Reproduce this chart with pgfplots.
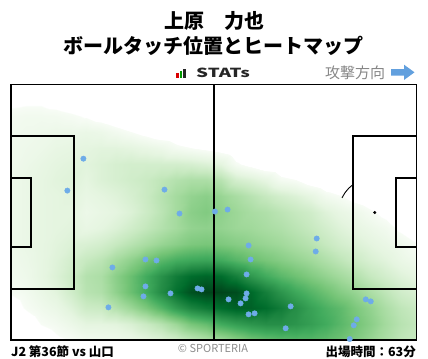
\documentclass[border=0pt]{standalone}
\usepackage{pgfplots}
\pgfplotsset{compat=1.18}
\usepackage{fontspec}
\setmainfont{Noto Sans CJK JP}
\definecolor{dotblue}{RGB}{110,172,232}
\definecolor{arrowblue}{RGB}{98,160,222}
\begin{document}
\begin{tikzpicture}
\useasboundingbox (0bp,0bp) rectangle (428bp,-359bp);
\begin{axis}[
  at={(11bp,-340bp)}, anchor=south west,
  scale only axis, width=405.5bp, height=255.5bp,
  xmin=0, xmax=405, ymin=0, ymax=256, y dir=reverse,
  xtick=\empty, ytick=\empty,
  axis on top, axis line style={line width=1.1bp, black},
  colormap={sgreens}{rgb255(0cm)=(255,255,255); rgb255(19cm)=(255,255,255); rgb255(20cm)=(247,252,245); rgb255(40cm)=(229,245,224); rgb255(60cm)=(199,233,192); rgb255(80cm)=(161,217,155); rgb255(100cm)=(116,196,118); rgb255(120cm)=(65,171,93); rgb255(140cm)=(35,139,69); rgb255(160cm)=(0,109,44); rgb255(180cm)=(0,68,27)},
  point meta min=0, point meta max=9,
]
\addplot [surf, shader=interp, mesh/rows=17, mesh/cols=28, point meta=explicit] coordinates {
(0,0)[-0.2] (15,0)[-0.2] (30,0)[-0.2] (45,0)[-0.5] (60,0)[-0.8] (75,0)[-1] (90,0)[-1] (105,0)[-1] (120,0)[-1] (135,0)[-1] (150,0)[-1] (165,0)[-1] (180,0)[-1] (195,0)[-1] (210,0)[-1] (225,0)[-1] (240,0)[-1] (255,0)[-1] (270,0)[-1] (285,0)[-1] (300,0)[-1] (315,0)[-1] (330,0)[-1] (345,0)[-1] (360,0)[-1] (375,0)[-1] (390,0)[-1] (405,0)[-1]

(0,16)[0.75] (15,16)[0.8] (30,16)[0.8] (45,16)[0.6] (60,16)[0.4] (75,16)[0.2] (90,16)[-0.2] (105,16)[-0.3] (120,16)[-0.5] (135,16)[-1] (150,16)[-1] (165,16)[-1] (180,16)[-1] (195,16)[-1] (210,16)[-1] (225,16)[-1] (240,16)[-1] (255,16)[-1] (270,16)[-1] (285,16)[-1] (300,16)[-1] (315,16)[-1] (330,16)[-1] (345,16)[-1] (360,16)[-1] (375,16)[-1] (390,16)[-1] (405,16)[-1]

(0,32)[1.2] (15,32)[1.3] (30,32)[1.3] (45,32)[1.25] (60,32)[1.1] (75,32)[0.9] (90,32)[0.6] (105,32)[0.3] (120,32)[0] (135,32)[-0.3] (150,32)[-0.5] (165,32)[-0.7] (180,32)[-1] (195,32)[-1] (210,32)[-1] (225,32)[-1] (240,32)[-1] (255,32)[-1] (270,32)[-1] (285,32)[-1] (300,32)[-1] (315,32)[-1] (330,32)[-1] (345,32)[-1] (360,32)[-1] (375,32)[-1] (390,32)[-1] (405,32)[-1]

(0,48)[1.3] (15,48)[1.4] (30,48)[1.5] (45,48)[1.6] (60,48)[1.6] (75,48)[1.7] (90,48)[1.6] (105,48)[1.3] (120,48)[1.0] (135,48)[0.7] (150,48)[0.4] (165,48)[0.3] (180,48)[0] (195,48)[-0.3] (210,48)[-0.5] (225,48)[-0.8] (240,48)[-1] (255,48)[-1] (270,48)[-1] (285,48)[-1] (300,48)[-1] (315,48)[-1] (330,48)[-1] (345,48)[-1] (360,48)[-1] (375,48)[-1] (390,48)[-1] (405,48)[-1]

(0,64)[1.4] (15,64)[1.5] (30,64)[1.6] (45,64)[1.8] (60,64)[1.9] (75,64)[2.0] (90,64)[2.1] (105,64)[2.1] (120,64)[2.0] (135,64)[1.8] (150,64)[1.6] (165,64)[1.2] (180,64)[1.0] (195,64)[0.8] (210,64)[0.6] (225,64)[0.3] (240,64)[-0.2] (255,64)[-0.5] (270,64)[-0.7] (285,64)[-1] (300,64)[-1] (315,64)[-1] (330,64)[-1] (345,64)[-1] (360,64)[-1] (375,64)[-1] (390,64)[-1] (405,64)[-1]

(0,80)[1.4] (15,80)[1.6] (30,80)[1.8] (45,80)[2.0] (60,80)[2.1] (75,80)[2.1] (90,80)[2.3] (105,80)[2.5] (120,80)[2.6] (135,80)[2.6] (150,80)[2.6] (165,80)[2.6] (180,80)[2.5] (195,80)[2.3] (210,80)[2.0] (225,80)[1.1] (240,80)[0.7] (255,80)[0.3] (270,80)[0.2] (285,80)[-0.1] (300,80)[-0.3] (315,80)[-0.5] (330,80)[-0.8] (345,80)[-1] (360,80)[-1] (375,80)[-1] (390,80)[-1] (405,80)[-1]

(0,96)[1.5] (15,96)[1.7] (30,96)[1.9] (45,96)[2.1] (60,96)[2.2] (75,96)[2.0] (90,96)[2.3] (105,96)[2.5] (120,96)[2.7] (135,96)[2.9] (150,96)[3.2] (165,96)[3.5] (180,96)[3.7] (195,96)[3.7] (210,96)[3.4] (225,96)[2.6] (240,96)[2.3] (255,96)[1.9] (270,96)[1.2] (285,96)[1.0] (300,96)[0.5] (315,96)[0.2] (330,96)[0] (345,96)[-0.2] (360,96)[-0.5] (375,96)[-0.8] (390,96)[-1] (405,96)[-1]

(0,112)[1.5] (15,112)[1.7] (30,112)[1.9] (45,112)[2.0] (60,112)[2.1] (75,112)[1.8] (90,112)[2.0] (105,112)[2.2] (120,112)[2.5] (135,112)[2.9] (150,112)[3.4] (165,112)[3.9] (180,112)[4.3] (195,112)[4.5] (210,112)[4.2] (225,112)[3.8] (240,112)[3.4] (255,112)[3.0] (270,112)[2.6] (285,112)[2.3] (300,112)[1.9] (315,112)[1.3] (330,112)[1.0] (345,112)[0.6] (360,112)[0.3] (375,112)[-0.1] (390,112)[-0.4] (405,112)[-0.7]

(0,128)[1.5] (15,128)[1.7] (30,128)[1.9] (45,128)[2.0] (60,128)[2.0] (75,128)[1.6] (90,128)[1.8] (105,128)[2.0] (120,128)[2.3] (135,128)[2.8] (150,128)[3.3] (165,128)[3.9] (180,128)[4.5] (195,128)[4.7] (210,128)[4.4] (225,128)[4.1] (240,128)[3.8] (255,128)[3.6] (270,128)[3.3] (285,128)[3.0] (300,128)[2.7] (315,128)[2.2] (330,128)[1.8] (345,128)[1.5] (360,128)[1.1] (375,128)[0.7] (390,128)[0.1] (405,128)[-0.2]

(0,144)[1.5] (15,144)[1.7] (30,144)[1.9] (45,144)[2.0] (60,144)[2.1] (75,144)[1.8] (90,144)[2.0] (105,144)[2.3] (120,144)[2.7] (135,144)[3.1] (150,144)[3.5] (165,144)[3.9] (180,144)[4.3] (195,144)[4.4] (210,144)[4.3] (225,144)[4.1] (240,144)[4.0] (255,144)[3.8] (270,144)[3.6] (285,144)[3.3] (300,144)[3.0] (315,144)[2.6] (330,144)[2.2] (345,144)[1.9] (360,144)[1.6] (375,144)[1.3] (390,144)[0.8] (405,144)[0.4]

(0,160)[1.5] (15,160)[1.7] (30,160)[1.9] (45,160)[2.1] (60,160)[2.3] (75,160)[2.4] (90,160)[2.6] (105,160)[3.0] (120,160)[3.4] (135,160)[3.8] (150,160)[4.2] (165,160)[4.5] (180,160)[4.8] (195,160)[4.9] (210,160)[4.8] (225,160)[4.6] (240,160)[4.4] (255,160)[4.2] (270,160)[4.0] (285,160)[3.7] (300,160)[3.4] (315,160)[3.0] (330,160)[2.6] (345,160)[2.3] (360,160)[2.0] (375,160)[1.7] (390,160)[1.4] (405,160)[1.0]

(0,176)[1.4] (15,176)[1.6] (30,176)[1.9] (45,176)[2.2] (60,176)[2.6] (75,176)[3.0] (90,176)[3.3] (105,176)[3.9] (120,176)[4.4] (135,176)[5.0] (150,176)[5.5] (165,176)[5.9] (180,176)[6.1] (195,176)[6.2] (210,176)[6.0] (225,176)[5.6] (240,176)[5.2] (255,176)[4.9] (270,176)[4.6] (285,176)[4.3] (300,176)[4.0] (315,176)[3.6] (330,176)[3.2] (345,176)[2.8] (360,176)[2.4] (375,176)[2.1] (390,176)[1.7] (405,176)[1.4]

(0,192)[1.3] (15,192)[1.5] (30,192)[1.9] (45,192)[2.3] (60,192)[2.8] (75,192)[3.5] (90,192)[3.7] (105,192)[4.5] (120,192)[5.2] (135,192)[6.0] (150,192)[6.8] (165,192)[7.5] (180,192)[8.0] (195,192)[8.2] (210,192)[8.0] (225,192)[7.4] (240,192)[6.6] (255,192)[6.0] (270,192)[5.5] (285,192)[5.1] (300,192)[4.7] (315,192)[4.3] (330,192)[3.9] (345,192)[3.5] (360,192)[3.0] (375,192)[2.6] (390,192)[2.2] (405,192)[1.9]

(0,208)[1.05] (15,208)[1.3] (30,208)[1.7] (45,208)[2.1] (60,208)[2.7] (75,208)[3.4] (90,208)[3.6] (105,208)[4.4] (120,208)[5.2] (135,208)[6.0] (150,208)[7.0] (165,208)[7.9] (180,208)[8.7] (195,208)[9.0] (210,208)[9.0] (225,208)[8.8] (240,208)[8.1] (255,208)[7.4] (270,208)[6.7] (285,208)[6.1] (300,208)[5.6] (315,208)[5.1] (330,208)[4.6] (345,208)[4.2] (360,208)[3.7] (375,208)[3.2] (390,208)[2.7] (405,208)[2.4]

(0,224)[0.6] (15,224)[1.05] (30,224)[1.4] (45,224)[1.7] (60,224)[2.2] (75,224)[2.8] (90,224)[2.9] (105,224)[3.5] (120,224)[4.1] (135,224)[4.8] (150,224)[5.6] (165,224)[6.5] (180,224)[7.2] (195,224)[7.6] (210,224)[8.0] (225,224)[8.3] (240,224)[8.3] (255,224)[8.0] (270,224)[7.5] (285,224)[6.9] (300,224)[6.3] (315,224)[5.8] (330,224)[5.4] (345,224)[4.8] (360,224)[4.3] (375,224)[3.7] (390,224)[3.2] (405,224)[2.9]

(0,240)[0] (15,240)[0.5] (30,240)[1.0] (45,240)[1.25] (60,240)[1.6] (75,240)[2.0] (90,240)[2.0] (105,240)[2.1] (120,240)[2.4] (135,240)[2.9] (150,240)[3.4] (165,240)[4.1] (180,240)[4.9] (195,240)[5.3] (210,240)[6.0] (225,240)[6.4] (240,240)[6.7] (255,240)[6.9] (270,240)[6.9] (285,240)[6.7] (300,240)[6.4] (315,240)[6.0] (330,240)[5.5] (345,240)[5.0] (360,240)[4.5] (375,240)[3.9] (390,240)[3.4] (405,240)[3.1]

(0,256)[-0.5] (15,256)[-0.3] (30,256)[0.4] (45,256)[0.8] (60,256)[1.0] (75,256)[1.3] (90,256)[1.4] (105,256)[1.5] (120,256)[1.7] (135,256)[2.0] (150,256)[2.3] (165,256)[2.7] (180,256)[3.2] (195,256)[3.6] (210,256)[4.0] (225,256)[4.5] (240,256)[5.0] (255,256)[5.3] (270,256)[5.5] (285,256)[5.6] (300,256)[5.6] (315,256)[5.4] (330,256)[5.1] (345,256)[4.7] (360,256)[4.2] (375,256)[3.7] (390,256)[3.2] (405,256)[3.0]
};
% ball touches
\addplot [only marks, mark=*, mark size=2.7bp, mark options={solid, draw=dotblue, fill=dotblue, line width=0.4bp}] coordinates {
(72.3,74.3) (56.3,106.3) (153.3,105.3) (168.3,129.3) (203.7,127.3) (216.3,125.3)
(305.3,154.3) (304.3,167.3) (237.3,161.3) (239.3,175.3) (235.3,190.3)
(101.3,183.3) (134.3,175.3) (145.3,176.3) (134.3,202.3) (132.3,212.3)
(159.3,209.3) (186.3,204.3) (190.3,205.3) (97.3,223.3) (235.3,209.3)
(234.3,214.3) (217.3,215.3) (229.3,219.3) (237.3,230.3) (243.3,229.3)
(279.3,222.3) (274.3,244.3) (354.3,215.3) (359.3,217.3) (345.3,235.3)
(342.3,241.3) (338.3,255)
};
% pitch markings
\draw[line width=1.9bp] (0,52) -- (63,52) -- (63,205) -- (0,205);
\draw[line width=1.9bp] (0,93.5) -- (20,93.5) -- (20,162.5) -- (0,162.5);
\draw[line width=1.9bp] (405,52) -- (341.5,52) -- (341.5,205) -- (405,205);
\draw[line width=1.9bp] (405,93.5) -- (384.5,93.5) -- (384.5,162.5) -- (405,162.5);
\draw[line width=1.9bp] (202.5,0) -- (202.5,256);
\addplot [black, line width=0.9bp, smooth, no marks] coordinates {(341.4,100.5) (337.6,103.7) (333.7,108.3) (330.6,113.6)};
\addplot [only marks, mark=*, mark size=1.3bp, black] coordinates {(363.3,128.3)};
\end{axis}
\begin{scope}[x=1bp, y=-1bp]
\node[anchor=base, inner sep=0, font=\bfseries\fontsize{20bp}{24bp}\selectfont] at (214,28.5) {上原　力也};
\node[anchor=base, inner sep=0, font=\bfseries\fontsize{20bp}{24bp}\selectfont] at (214,53.8) {ボールタッチ位置とヒートマップ};
\fill[red!85!black] (176,72.5) rectangle (178.8,77.5);
\fill[green!60!black] (179.6,71) rectangle (182.4,77.5);
\fill[black!85] (183.2,68.7) rectangle (186.2,77.5);
\node[anchor=base west, inner sep=0, text=black!85, font=\bfseries\fontsize{12.5bp}{15bp}\selectfont] at (196,77.5) {\scalebox{1.5}[1]{STATs}};
\node[anchor=base west, inner sep=0, text=black!47, font=\fontsize{15bp}{17bp}\selectfont] at (325,78.3) {攻撃方向};
\fill[arrowblue] (391,69) -- (404,69) -- (404,64.7) -- (414.5,72.3) -- (404,80) -- (404,75.7) -- (391,75.7) -- cycle;
\node[anchor=base west, inner sep=0, font=\bfseries\fontsize{12.5bp}{15bp}\selectfont] at (11,356) {J2 第36節 vs 山口};
\node[anchor=base, inner sep=0, text=black!45, font=\fontsize{11bp}{13bp}\selectfont] at (213,352.5) {© SPORTERIA};
\node[anchor=base east, inner sep=0, font=\bfseries\fontsize{12.5bp}{15bp}\selectfont] at (416,356) {出場時間：63分};
\end{scope}
\end{tikzpicture}
\end{document}
